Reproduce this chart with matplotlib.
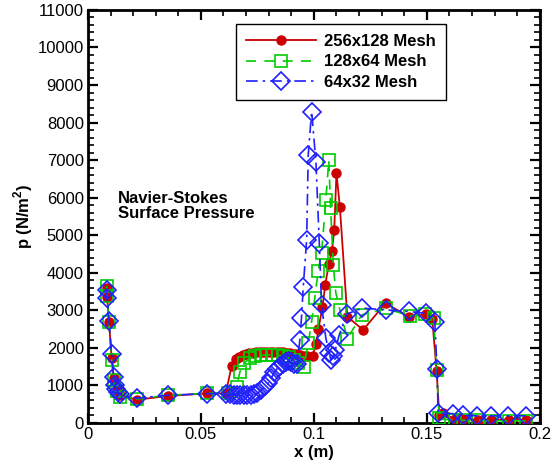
import numpy as np
import matplotlib
matplotlib.use('Agg')
import matplotlib.pyplot as plt
from matplotlib.ticker import MultipleLocator, FuncFormatter

plt.rcParams['font.family'] = ['Liberation Sans', 'DejaVu Sans']
plt.rcParams['mathtext.fontset'] = 'custom'
plt.rcParams['mathtext.rm'] = 'Liberation Sans'
plt.rcParams['mathtext.bf'] = 'Liberation Sans:bold'

# 256x128 mesh
x_fine = [0.0083, 0.0085, 0.0093, 0.0105, 0.0114, 0.0127, 0.0142, 0.0215, 0.0355, 0.0528,
          0.061, 0.0636, 0.0655, 0.067, 0.0685, 0.070, 0.0715, 0.073, 0.0745, 0.076,
          0.0775, 0.079, 0.0805, 0.082, 0.0835, 0.085, 0.0865, 0.088, 0.0895, 0.091,
          0.0925, 0.094, 0.0955, 0.097, 0.0994, 0.101, 0.102, 0.1038, 0.105, 0.1066,
          0.108, 0.109, 0.110, 0.1115, 0.1148, 0.1218, 0.1317, 0.142, 0.1496, 0.1524,
          0.1543, 0.1555, 0.157, 0.1624, 0.166, 0.1726, 0.1786, 0.1864, 0.194]
p_fine = [3590, 3360, 2700, 1740, 1190, 880, 750, 620, 720, 790,
          790, 1520, 1700, 1770, 1810, 1840, 1860, 1875, 1885, 1895,
          1900, 1900, 1900, 1900, 1895, 1890, 1885, 1875, 1860, 1850,
          1830, 1810, 1790, 1780, 1790, 2100, 2510, 3080, 3670, 4230,
          4590, 5140, 6650, 5760, 2830, 2480, 3190, 2830, 2900, 2760,
          1390, 210, 260, 100, 100, 90, 90, 90, 90]

# 128x64 mesh
x_med = [0.0083, 0.0085, 0.0093, 0.0105, 0.0114, 0.0127, 0.0142, 0.0215, 0.0355, 0.0528,
         0.062, 0.0658, 0.0673, 0.069, 0.0717, 0.074, 0.0765, 0.079, 0.0815, 0.084,
         0.0865, 0.089, 0.091, 0.093, 0.0955, 0.0975, 0.099, 0.1004, 0.1019, 0.1034,
         0.1053, 0.1066, 0.1074, 0.1086, 0.1097, 0.1115, 0.1148, 0.1212, 0.132, 0.1425,
         0.149, 0.153, 0.1543, 0.1555, 0.157, 0.1624, 0.166, 0.1726, 0.1786, 0.1864, 0.194]
p_med = [3650, 3380, 2680, 1680, 1150, 850, 700, 640, 740, 790,
         800, 970, 1370, 1590, 1720, 1780, 1800, 1810, 1810, 1800,
         1790, 1750, 1680, 1600, 1480, 2120, 2700, 3320, 4050, 4520,
         5940, 7000, 5720, 4210, 3470, 3010, 2250, 2880, 3050, 2850,
         2900, 2800, 1420, 130, 100, 80, 70, 70, 60, 60, 60]

# 64x32 mesh
x_coarse = [0.0083, 0.0085, 0.0093, 0.0105, 0.0114, 0.0120, 0.0125, 0.0132, 0.014, 0.0215,
            0.0355, 0.0528, 0.061, 0.063, 0.0645, 0.066, 0.0675, 0.069, 0.0705, 0.072,
            0.0735, 0.075, 0.0768, 0.0785, 0.0798, 0.0812, 0.0825, 0.0838, 0.085, 0.0862,
            0.0875, 0.0888, 0.090, 0.0912, 0.0925, 0.0938, 0.0945, 0.0953, 0.0968, 0.0975,
            0.099, 0.1009, 0.1024, 0.1034, 0.1053, 0.1068, 0.1075, 0.1085, 0.1095, 0.1112,
            0.1145, 0.1215, 0.132, 0.142, 0.1496, 0.1535, 0.1545, 0.155, 0.1617, 0.166,
            0.172, 0.1783, 0.186, 0.194]
p_coarse = [3550, 3330, 2720, 1850, 1230, 1000, 900, 820, 760, 660,
            740, 780, 780, 760, 750, 745, 740, 740, 740, 745,
            760, 790, 880, 980, 1060, 1200, 1350, 1450, 1520, 1580,
            1620, 1640, 1620, 1580, 1560, 2210, 2790, 3630, 4870, 7140,
            8290, 6960, 4790, 3140, 2260, 1860, 1680, 1780, 1950, 2340,
            2900, 3060, 3010, 2970, 2920, 2700, 1450, 260, 250, 200,
            190, 190, 190, 190]

fig = plt.figure(figsize=(5.6, 4.73), dpi=100)
ax = fig.add_axes([0.157, 0.1057, 0.807, 0.8733])

ax.plot(x_fine, p_fine, color='#cc0000', ls='-', lw=1.3, marker='o', ms=6.5,
        mfc='#cc0000', mec='#cc0000', label='256x128 Mesh', zorder=3)
ax.plot(x_med, p_med, color='#00cc00', ls=(0, (6, 5)), lw=1.2, marker='s', ms=9,
        mfc='none', mec='#00cc00', mew=1.2, label='128x64 Mesh', zorder=4)
ax.plot(x_coarse, p_coarse, color='#2020ff', ls=(0, (7, 3, 1.5, 3)), lw=1.2, marker='D', ms=9.5,
        mfc='none', mec='#2020ff', mew=1.2, label='64x32 Mesh', zorder=5)

ax.set_xlim(0, 0.2)
ax.set_ylim(0, 11000)
ax.xaxis.set_major_locator(MultipleLocator(0.05))
ax.xaxis.set_minor_locator(MultipleLocator(0.01))
ax.yaxis.set_major_locator(MultipleLocator(1000))
ax.yaxis.set_minor_locator(MultipleLocator(200))
ax.xaxis.set_major_formatter(FuncFormatter(lambda v, pos: '%g' % round(v, 4)))
ax.tick_params(which='both', direction='in', top=True, right=True, labelsize=12, pad=3)
ax.tick_params(which='major', length=7, width=1.6)
ax.tick_params(which='minor', length=4, width=1.2)
for s in ax.spines.values():
    s.set_linewidth(2)

ax.set_xlabel('x (m)', fontsize=12, fontweight='bold', labelpad=2)
ax.set_ylabel(r'p (N/m$^{\mathbf{2}}$)', fontsize=12, fontweight='bold', labelpad=2)

ax.text(0.0133, 5780, 'Navier-Stokes\nSurface Pressure', fontsize=12, fontweight='bold',
        va='center', ha='left', linespacing=1.0)

leg = ax.legend(loc='upper left', bbox_to_anchor=(0.327, 0.966), borderaxespad=0,
                fancybox=False, edgecolor='black', framealpha=1, handlelength=4.2,
                numpoints=1, prop={'weight': 'bold', 'size': 12}, borderpad=0.6,
                labelspacing=0.33, handletextpad=0.5)
leg.get_frame().set_linewidth(1)

fig.savefig('out.png', dpi=100)
